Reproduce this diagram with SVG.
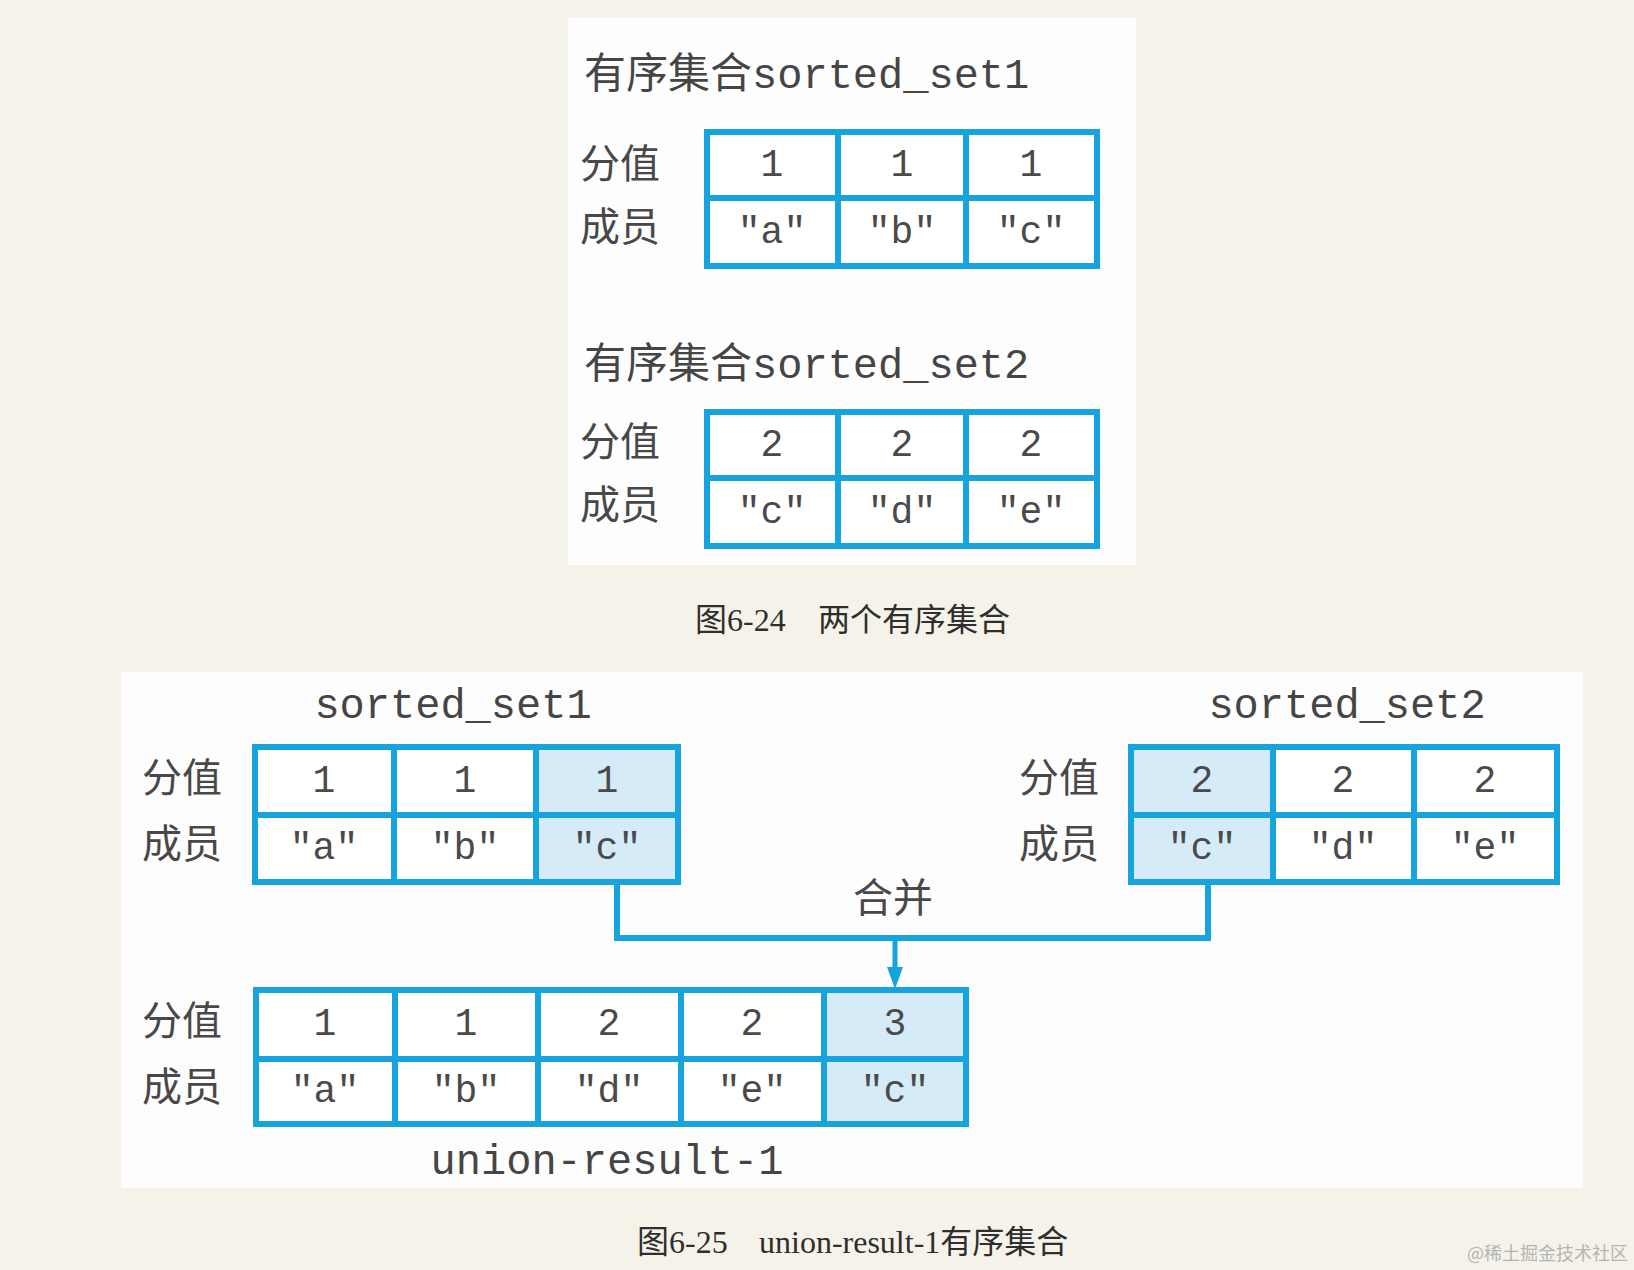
<svg xmlns="http://www.w3.org/2000/svg" width="1634" height="1270" viewBox="0 0 1634 1270">
<defs>
<style>
.bg{fill:#f5f3e9}
.panel{fill:#fdfdfd}
.cell{fill:#ffffff;stroke:#17a3dd;stroke-width:6}
.hl{fill:#d5ebf8;stroke:#17a3dd;stroke-width:6}
.mono{font-family:"Liberation Mono","DejaVu Sans Mono",monospace;font-size:38px;fill:#4a4a4a;text-anchor:middle;dominant-baseline:central}
.title{font-family:"Liberation Mono","DejaVu Sans Mono",monospace;font-size:42px;fill:#454545}
.cjk{font-family:"Noto Sans CJK SC",sans-serif;font-size:40px;fill:#484848}
.cjkt{font-family:"Noto Sans CJK SC",sans-serif}
.cap{font-family:"Liberation Serif","Noto Sans CJK SC",serif;font-size:32px;fill:#2e2e2e}
.wire{fill:none;stroke:#17a3dd;stroke-width:6}
.arr{fill:none;stroke:#17a3dd;stroke-width:5}
</style>
<marker id="ah" markerUnits="userSpaceOnUse" markerWidth="22" markerHeight="16" viewBox="0 0 22 16" refX="10" refY="8" orient="auto">
<path d="M0,0 L22,8 L0,16 z" fill="#17a3dd"/>
</marker>
</defs>
<rect class="bg" x="0" y="0" width="1634" height="1270"/>
<rect class="panel" x="568" y="18" width="568" height="547"/>
<rect class="panel" x="121" y="672" width="1462" height="516"/>

<g id="set1-top">
<text class="title" x="584" y="88"><tspan class="cjkt">有序集合</tspan>sorted_set1</text>
<text class="cjk" x="580" y="178">分值</text>
<text class="cjk" x="580" y="241">成员</text>
<rect class="cell" x="707" y="132" width="131" height="66"/>
<rect class="cell" x="838" y="132" width="128" height="66"/>
<rect class="cell" x="966" y="132" width="131" height="66"/>
<rect class="cell" x="707" y="198" width="131" height="68"/>
<rect class="cell" x="838" y="198" width="128" height="68"/>
<rect class="cell" x="966" y="198" width="131" height="68"/>
<text class="mono" x="772" y="165">1</text>
<text class="mono" x="902" y="165">1</text>
<text class="mono" x="1031" y="165">1</text>
<text class="mono" x="772" y="232">"a"</text>
<text class="mono" x="902" y="232">"b"</text>
<text class="mono" x="1031" y="232">"c"</text>
</g>

<g id="set2-top">
<text class="title" x="584" y="378"><tspan class="cjkt">有序集合</tspan>sorted_set2</text>
<text class="cjk" x="580" y="456">分值</text>
<text class="cjk" x="580" y="519">成员</text>
<rect class="cell" x="707" y="412" width="131" height="66"/>
<rect class="cell" x="838" y="412" width="128" height="66"/>
<rect class="cell" x="966" y="412" width="131" height="66"/>
<rect class="cell" x="707" y="478" width="131" height="68"/>
<rect class="cell" x="838" y="478" width="128" height="68"/>
<rect class="cell" x="966" y="478" width="131" height="68"/>
<text class="mono" x="772" y="445">2</text>
<text class="mono" x="902" y="445">2</text>
<text class="mono" x="1031" y="445">2</text>
<text class="mono" x="772" y="512">"c"</text>
<text class="mono" x="902" y="512">"d"</text>
<text class="mono" x="1031" y="512">"e"</text>
</g>

<g id="caption-24">
<text class="cap" x="695" y="631"><tspan class="cjkt">图</tspan>6-24<tspan x="818" class="cjkt">两个有序集合</tspan></text>
</g>

<g id="connectors">
<path class="wire" d="M617,885 V938 H1208 V885"/>
<line class="arr" x1="895" y1="938" x2="895" y2="977" marker-end="url(#ah)"/>
<text class="cjk" x="853" y="912">合并</text>
</g>

<g id="set1">
<text class="title" x="453" y="718" text-anchor="middle">sorted_set1</text>
<text class="cjk" x="142" y="792">分值</text>
<text class="cjk" x="142" y="858">成员</text>
<rect class="cell" x="255" y="747" width="139" height="68"/>
<rect class="cell" x="394" y="747" width="142" height="68"/>
<rect class="hl" x="536" y="747" width="142" height="68"/>
<rect class="cell" x="255" y="815" width="139" height="67"/>
<rect class="cell" x="394" y="815" width="142" height="67"/>
<rect class="hl" x="536" y="815" width="142" height="67"/>
<text class="mono" x="324" y="781">1</text>
<text class="mono" x="465" y="781">1</text>
<text class="mono" x="607" y="781">1</text>
<text class="mono" x="324" y="848">"a"</text>
<text class="mono" x="465" y="848">"b"</text>
<text class="mono" x="607" y="848">"c"</text>
</g>

<g id="set2">
<text class="title" x="1347" y="718" text-anchor="middle">sorted_set2</text>
<text class="cjk" x="1019" y="792">分值</text>
<text class="cjk" x="1019" y="858">成员</text>
<rect class="hl" x="1131" y="747" width="142" height="68"/>
<rect class="cell" x="1273" y="747" width="141" height="68"/>
<rect class="cell" x="1414" y="747" width="143" height="68"/>
<rect class="hl" x="1131" y="815" width="142" height="67"/>
<rect class="cell" x="1273" y="815" width="141" height="67"/>
<rect class="cell" x="1414" y="815" width="143" height="67"/>
<text class="mono" x="1202" y="781">2</text>
<text class="mono" x="1343" y="781">2</text>
<text class="mono" x="1485" y="781">2</text>
<text class="mono" x="1202" y="848">"c"</text>
<text class="mono" x="1343" y="848">"d"</text>
<text class="mono" x="1485" y="848">"e"</text>
</g>

<g id="union-result-1">
<text class="cjk" x="142" y="1035">分值</text>
<text class="cjk" x="142" y="1101">成员</text>
<rect class="cell" x="256" y="990" width="139" height="69"/>
<rect class="cell" x="395" y="990" width="143" height="69"/>
<rect class="cell" x="538" y="990" width="143" height="69"/>
<rect class="cell" x="681" y="990" width="143" height="69"/>
<rect class="hl" x="824" y="990" width="142" height="69"/>
<rect class="cell" x="256" y="1059" width="139" height="65"/>
<rect class="cell" x="395" y="1059" width="143" height="65"/>
<rect class="cell" x="538" y="1059" width="143" height="65"/>
<rect class="cell" x="681" y="1059" width="143" height="65"/>
<rect class="hl" x="824" y="1059" width="142" height="65"/>
<text class="mono" x="325" y="1024">1</text>
<text class="mono" x="466" y="1024">1</text>
<text class="mono" x="609" y="1024">2</text>
<text class="mono" x="752" y="1024">2</text>
<text class="mono" x="895" y="1024">3</text>
<text class="mono" x="325" y="1091">"a"</text>
<text class="mono" x="466" y="1091">"b"</text>
<text class="mono" x="609" y="1091">"d"</text>
<text class="mono" x="752" y="1091">"e"</text>
<text class="mono" x="895" y="1091">"c"</text>
<text class="title" x="607" y="1174" text-anchor="middle">union-result-1</text>
</g>

<g id="caption-25">
<text class="cap" x="637" y="1253"><tspan class="cjkt">图</tspan>6-25<tspan x="759">union-result-1</tspan><tspan class="cjkt">有序集合</tspan></text>
</g>
<g id="watermark">
<text x="1628" y="1260" text-anchor="end" style="font-family:'Noto Sans CJK SC',sans-serif;font-size:18px;fill:#b4b4b4">@稀土掘金技术社区</text>
</g>
</svg>
